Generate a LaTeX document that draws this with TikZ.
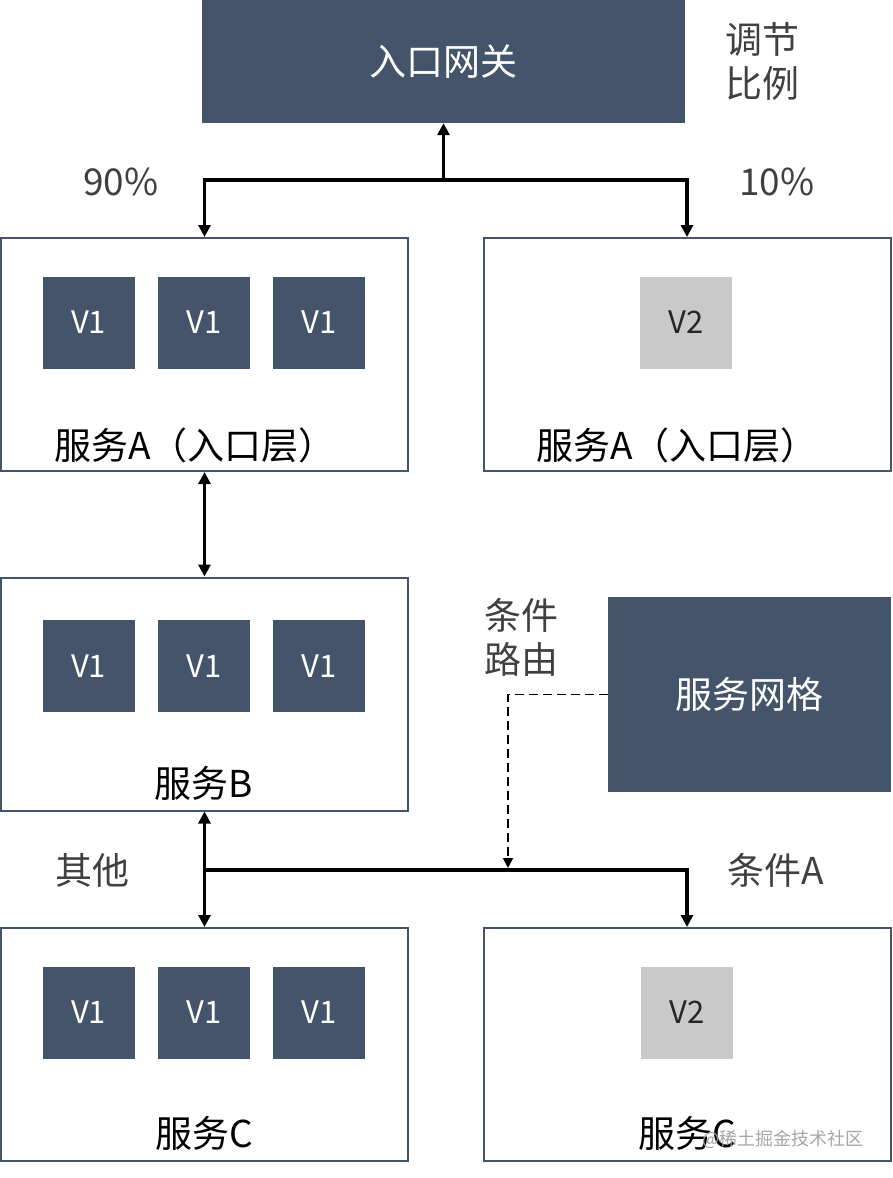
\documentclass[tikz,border=0pt]{standalone}
\usepackage{fontspec}
\setmainfont{Noto Sans CJK SC}
\usetikzlibrary{positioning,arrows.meta}
\definecolor{slate}{HTML}{44546A}
\definecolor{pale}{HTML}{C9C9C9}
\definecolor{note}{HTML}{404040}

\begin{document}
\begin{tikzpicture}[x=1pt, y=-1pt,
      node distance=23pt and 23pt,                       % gap between the version squares
      darkbox/.style={fill=slate, text=white, inner sep=0pt, font=\fontsize{37}{40}\selectfont},
      svc/.style={draw=slate, line width=2pt, minimum width=407pt, minimum height=233pt, inner sep=0pt},
      vone/.style={fill=slate, text=white, minimum size=92pt, inner sep=0pt, font=\fontsize{31}{34}\selectfont},
      vtwo/.style={fill=pale, text=black!85, minimum size=92pt, inner sep=0pt, font=\fontsize{31}{34}\selectfont},
      svcname/.style={font=\fontsize{37}{40}\selectfont, inner sep=0pt},
      remark/.style={text=note, align=left, inner sep=0pt, font=\fontsize{37}{44}\selectfont},
      arr/.style={line width=3.2pt, -{Triangle[length=12pt,width=12pt]}},     % solid arrow
      twoway/.style={line width=3.2pt, {Triangle[length=12pt,width=12pt]}-{Triangle[length=12pt,width=12pt]}},
      dasharr/.style={line width=1.8pt, dash pattern=on 9pt off 5pt, -{Triangle[length=10pt,width=10pt]}}]
    \useasboundingbox (0,0) rectangle (892,1178);

    % gateway and the weight split
    \node[darkbox, minimum width=483pt, minimum height=123pt] (gw) at (443.5,61.5) {入口网关};
    \node[remark] (ratio) at (762,61) {调节\\比例};
    \node[svc] (a1) at (204.5,354.5) {};
    \node[svc] (a2) at (687,354.5) {};
    \node[vone] (a1m) at (204,322.5) {V1};
    \node[vone, left=of a1m] (a1l) {V1};
    \node[vone, right=of a1m] (a1r) {V1};
    \node[vtwo] (a2v) at (686,322.5) {V2};
    \node[svcname] (a1n) at (195,445) {服务A（入口层）};
    \node[svcname] (a2n) at (677,445) {服务A（入口层）};
    \node[remark] (p90) at (121,182) {90\%};
    \node[remark] (p10) at (777,182) {10\%};

    % service B
    \node[svc] (b) at (204.5,694) {};
    \node[vone] (bm) at (204,666) {V1};
    \node[vone, left=of bm] (bl) {V1};
    \node[vone, right=of bm] (br) {V1};
    \node[svcname] (bn) at (204,783) {服务B};

    % mesh with conditional routing
    \node[darkbox, minimum width=283pt, minimum height=195pt] (mesh) at (749.5,694.5) {服务网格};
    \node[remark] (route) at (521,637) {条件\\路由};

    % service C
    \node[svc] (c1) at (204.5,1044.5) {};
    \node[svc] (c2) at (687,1044.5) {};
    \node[vone] (c1m) at (204,1012.5) {V1};
    \node[vone, left=of c1m] (c1l) {V1};
    \node[vone, right=of c1m] (c1r) {V1};
    \node[vtwo] (c2v) at (687,1012.5) {V2};
    \node[svcname] (c1n) at (204,1133) {服务C};
    \node[svcname] (c2n) at (687,1133) {服务C};
    \node[remark] (other) at (92,870) {其他};
    \node[remark] (conda) at (776,870) {条件A};
    \node[text=black!35, inner sep=0pt, font=\fontsize{18}{20}\selectfont] (wm) at (783,1139) {@稀土掘金技术社区};

    \coordinate (split) at (443.5,180);
    \coordinate (fork) at (204.5,870);
    \coordinate (hit) at (508,868);
    \draw[arr] (split) -- (gw.south);                   % gateway fed from the split
    \draw[arr] (split) -| (a1.north);                   % 90 percent to v1
    \draw[arr] (split) -| (a2.north);                   % 10 percent to v2
    \draw[twoway] (a1.south) -- (b.north);
    \draw[arr] (fork) -- (b.south);
    \draw[arr] (fork) -- (c1.north);                    % other traffic
    \draw[arr] (fork) -| (c2.north);                    % condition A
    \draw[dasharr] (mesh.west) -| (hit);                % mesh routes the fork
  \end{tikzpicture}
\end{document}
